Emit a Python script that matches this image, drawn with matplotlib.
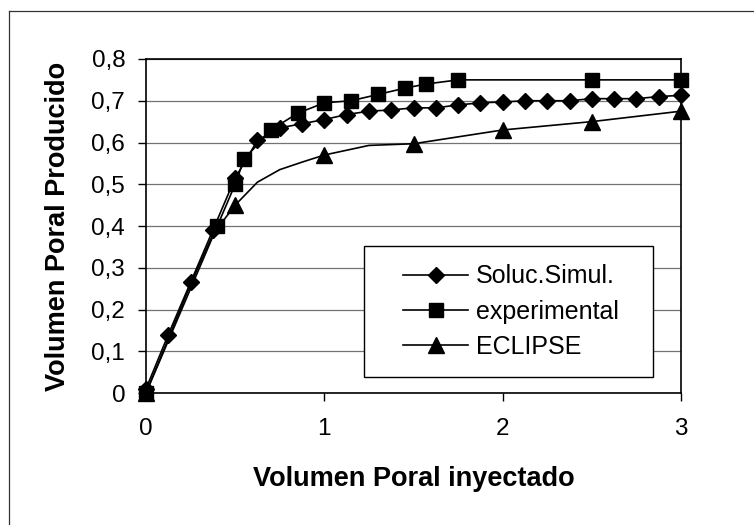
import matplotlib
matplotlib.use("Agg")
import matplotlib.pyplot as plt
from matplotlib.lines import Line2D
from matplotlib.patches import Rectangle
from matplotlib.ticker import FuncFormatter

#### 00 data

# Soluc.Simul. (diamonds), one point every 0.125
simul_x = [0, 0.125, 0.25, 0.375, 0.5, 0.625, 0.75, 0.875, 1.0, 1.125, 1.25, 1.375,
           1.5, 1.625, 1.75, 1.875, 2.0, 2.125, 2.25, 2.375, 2.5, 2.625, 2.75, 2.875, 3.0]
simul_y = [0.01, 0.14, 0.265, 0.39, 0.515, 0.605, 0.635, 0.645, 0.655, 0.667, 0.675, 0.678,
           0.683, 0.683, 0.69, 0.695, 0.697, 0.70, 0.70, 0.70, 0.705, 0.705, 0.705, 0.71, 0.713]

# experimental (squares)
exp_x = [0, 0.4, 0.5, 0.55, 0.7, 0.85, 1.0, 1.15, 1.3, 1.45, 1.57, 1.75, 2.5, 3.0]
exp_y = [0.0, 0.40, 0.50, 0.56, 0.63, 0.67, 0.695, 0.70, 0.715, 0.73, 0.74, 0.75, 0.75, 0.75]

# ECLIPSE (triangles only on some of the points)
ecl_x = [0, 0.125, 0.25, 0.375, 0.5, 0.625, 0.75, 0.875, 1.0, 1.25, 1.5, 2.0, 2.5, 3.0]
ecl_y = [0.0, 0.13, 0.26, 0.38, 0.45, 0.505, 0.535, 0.553, 0.57, 0.593, 0.597, 0.63, 0.65, 0.675]
ecl_marked = [0, 4, 8, 10, 11, 12, 13]

labels = ["Soluc.Simul.", "experimental", "ECLIPSE"]
x_ticks = [0, 1, 2, 3]
y_ticks = [0, 0.1, 0.2, 0.3, 0.4, 0.5, 0.6, 0.7, 0.8]


#### 01 plot
plt.rcParams["font.family"] = ["Liberation Sans", "DejaVu Sans"]

W, H = 754, 525
fig = plt.figure(figsize = (W / 100, H / 100), dpi = 100)
ax = fig.add_axes([146 / W, 1 - 393 / H, (681 - 146) / W, (393 - 59) / H])

ax.plot(simul_x, simul_y, color = "k", lw = 1.2, marker = "D", ms = 8,
        mfc = "k", mec = "k", clip_on = False, zorder = 3, label = labels[0])
ax.plot(exp_x, exp_y, color = "k", lw = 1.2, marker = "s", ms = 9.5,
        mfc = "k", mec = "k", clip_on = False, zorder = 3, label = labels[1])
ax.plot(ecl_x, ecl_y, color = "k", lw = 1.2, marker = "^", ms = 11, markevery = ecl_marked,
        mfc = "k", mec = "k", clip_on = False, zorder = 3, label = labels[2])

ax.set_xlim(0, 3)
ax.set_ylim(0, 0.8)
ax.set_xticks(x_ticks)
ax.set_yticks(y_ticks)
ax.yaxis.set_major_formatter(FuncFormatter(lambda v, p: ("%g" % round(v, 1)).replace(".", ",")))
ax.tick_params(axis = "both", direction = "out", length = 6, width = 1, labelsize = 17.5, color = "k")
ax.tick_params(axis = "x", pad = 12)
ax.tick_params(axis = "y", pad = 9)

ax.yaxis.grid(True, color = "0.45", lw = 0.9)
ax.set_axisbelow(True)
for s in ax.spines.values():
    s.set_linewidth(1.2)
    s.set_color("k")

ax.set_xlabel("Volumen Poral inyectado", fontsize = 19.5, fontweight = "bold", labelpad = 19)
ax.set_ylabel("Volumen Poral Producido", fontsize = 19.5, fontweight = "bold", labelpad = 15)

# legend box drawn by hand so the padding matches
x0, x1 = (364 - 146) / (681 - 146), (653 - 146) / (681 - 146)
y0, y1 = (393 - 377) / (393 - 59), (393 - 246) / (393 - 59)
ax.add_patch(Rectangle((x0, y0), x1 - x0, y1 - y0, transform = ax.transAxes,
                       facecolor = "white", edgecolor = "k", lw = 1.0, zorder = 4))
leg = ax.legend(loc = "center", bbox_to_anchor = ((x0 + x1) / 2 + 0.005, (y0 + y1) / 2),
                frameon = False, fontsize = 18, handlelength = 2.6, handletextpad = 0.3,
                labelspacing = 0.45, borderpad = 0)
leg.set_zorder(5)

# outer chart frame (only left and top are visible)
fy = 1 - 11 / H
fx = 9 / W
fig.add_artist(Line2D([fx, fx], [0, fy], color = "0.2", lw = 0.9))
fig.add_artist(Line2D([fx, 1], [fy, fy], color = "0.2", lw = 0.9))


#### 02 save
plt.savefig("out.png", dpi = 100)
